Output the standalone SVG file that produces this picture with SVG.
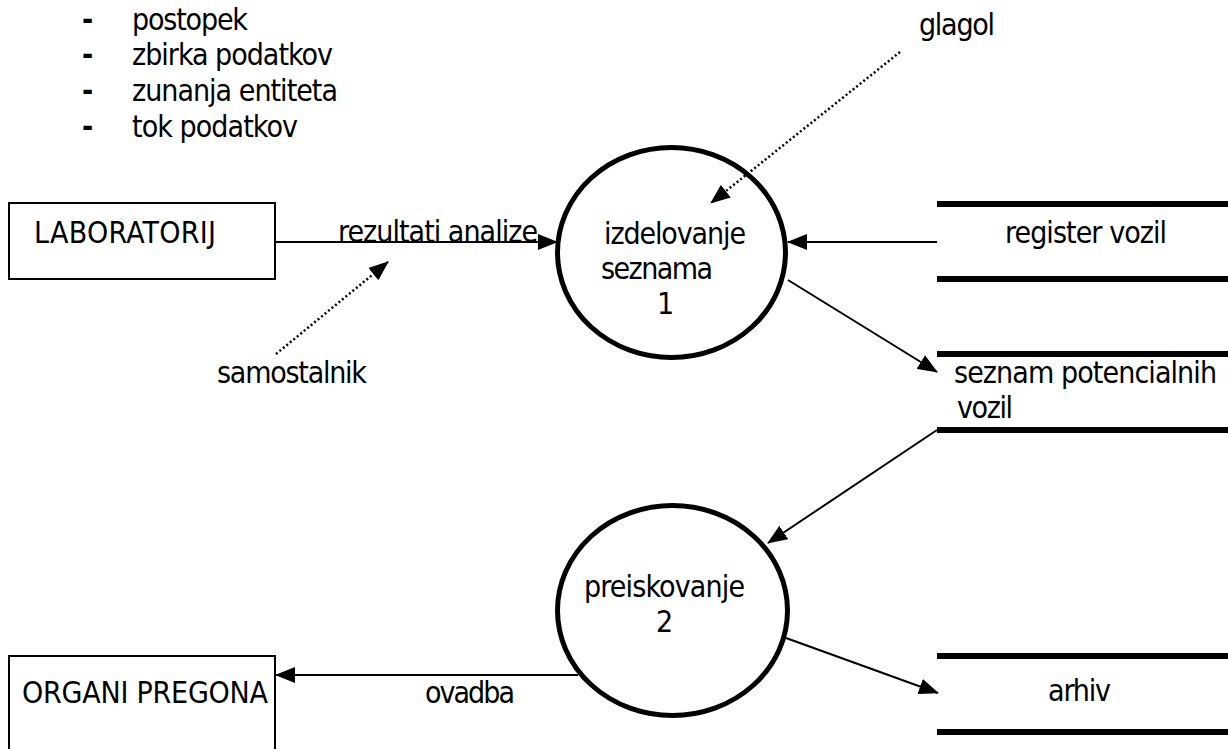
<svg xmlns="http://www.w3.org/2000/svg" width="1228" height="749" viewBox="0 0 1228 749">
<style>
text{font-family:"DejaVu Sans Condensed","DejaVu Sans",sans-serif;font-size:30px;fill:#000}
.box{fill:#fff;stroke:#000;stroke-width:2}
.proc{fill:#fff;stroke:#000;stroke-width:5}
.store{stroke:#000;stroke-width:6}
.flow{stroke:#000;stroke-width:2;fill:none}
.dot{stroke:#000;stroke-width:2.5;fill:none;stroke-dasharray:2 2.5}
.bul{font-weight:bold}
</style>
<defs>
<marker id="ah" markerUnits="userSpaceOnUse" markerWidth="20" markerHeight="16" refX="19" refY="8" orient="auto">
<path d="M0,0 L20,8 L0,16 Z" fill="#000"/>
</marker>
</defs>
<rect width="1228" height="749" fill="#fff"/>
<g id="legend">
<text class="bul" x="82" y="30">-</text><text x="132" y="30" textLength="116">postopek</text>
<text class="bul" x="82" y="65">-</text><text x="132" y="65" textLength="201">zbirka podatkov</text>
<text class="bul" x="82" y="101">-</text><text x="132" y="101" textLength="206">zunanja entiteta</text>
<text class="bul" x="82" y="137">-</text><text x="132" y="137" textLength="166">tok podatkov</text>
</g>
<g id="laboratorij">
<rect class="box" x="9" y="203" width="266" height="76"/>
<text x="34" y="243" textLength="182">LABORATORIJ</text>
</g>
<g id="organi-pregona">
<rect class="box" x="9" y="656" width="266" height="110"/>
<text x="22" y="703" textLength="246">ORGANI PREGONA</text>
</g>
<g id="proces-1">
<ellipse class="proc" cx="671.5" cy="252.5" rx="114" ry="105"/>
<text x="604" y="244" textLength="142">izdelovanje</text>
<text x="601" y="279" textLength="112">seznama</text>
<text x="657" y="314">1</text>
</g>
<g id="proces-2">
<ellipse class="proc" cx="672.5" cy="610.5" rx="115" ry="105"/>
<text x="584" y="597" textLength="161">preiskovanje</text>
<text x="656" y="632">2</text>
</g>
<g id="register-vozil">
<line class="store" x1="937" y1="204" x2="1228" y2="204"/>
<line class="store" x1="937" y1="279" x2="1228" y2="279"/>
<text x="1005" y="243" textLength="162">register vozil</text>
</g>
<g id="seznam-potencialnih-vozil">
<line class="store" x1="937" y1="354" x2="1228" y2="354"/>
<line class="store" x1="937" y1="430" x2="1228" y2="430"/>
<text x="954" y="383" textLength="263">seznam potencialnih</text>
<text x="957" y="418" textLength="56">vozil</text>
</g>
<g id="arhiv">
<line class="store" x1="937" y1="656" x2="1228" y2="656"/>
<line class="store" x1="937" y1="732" x2="1228" y2="732"/>
<text x="1048" y="701" textLength="63">arhiv</text>
</g>
<g id="connectors">
<line class="flow" x1="275" y1="242" x2="557" y2="242" marker-end="url(#ah)"/>
<line class="flow" x1="937" y1="242" x2="788" y2="242" marker-end="url(#ah)"/>
<line class="flow" x1="788" y1="280" x2="937" y2="372" marker-end="url(#ah)"/>
<line class="flow" x1="937" y1="430" x2="768" y2="543" marker-end="url(#ah)"/>
<line class="flow" x1="786" y1="638" x2="938" y2="693" marker-end="url(#ah)"/>
<line class="flow" x1="578" y1="675" x2="276" y2="675" marker-end="url(#ah)"/>
<line class="dot" x1="276" y1="354" x2="388" y2="262" marker-end="url(#ah)"/>
<line class="dot" x1="900" y1="52" x2="711" y2="203" marker-end="url(#ah)"/>
<text x="338" y="242" textLength="200">rezultati analize</text>
<text x="425" y="703" textLength="90">ovadba</text>
<text x="217" y="383" textLength="150">samostalnik</text>
<text x="919" y="35" textLength="76">glagol</text>
</g>
</svg>
